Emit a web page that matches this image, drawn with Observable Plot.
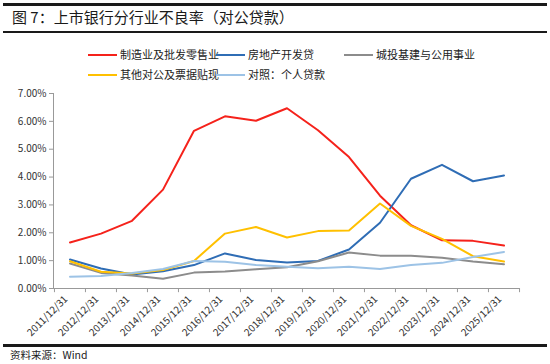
<!DOCTYPE html>
<html><head><meta charset="utf-8">
<script src="https://cdn.jsdelivr.net/npm/d3@7"></script>
<script src="https://cdn.jsdelivr.net/npm/@observablehq/plot@0.6"></script>
<style>
body{margin:0;width:550px;height:364px;position:relative;background:#fff;font-family:"Noto Sans CJK SC","Noto Sans",sans-serif;overflow:hidden}
.abs{position:absolute}
#topline{left:3px;top:3px;width:544px;height:3px;background:#1a1a1a}
#title{left:12px;top:7px;font-size:15px;color:#1a1a1a;line-height:20px;font-weight:400}
#subline{left:3px;top:31px;width:544px;height:2px;background:#1a1a1a}
#botline{left:3px;top:344px;width:544px;height:3px;background:#1a1a1a}
#caption{left:10px;top:347px;font-size:10.5px;color:#1a1a1a;line-height:16px}
.leg{position:absolute;font-size:11px;color:#222;line-height:14px;white-space:nowrap}
.leg span.sw{display:inline-block;width:29px;height:2px;vertical-align:middle;margin-right:3px;position:relative;top:-1px}
#chart{left:0;top:80px}
</style></head>
<body>
<div class="abs" id="topline"></div>
<div class="abs" id="title">图 7：上市银行分行业不良率（对公贷款）</div>
<div class="abs" id="subline"></div>
<div id="legend"></div>
<div class="abs" id="chart"></div>
<div class="abs" id="botline"></div>
<div class="abs" id="caption">资料来源：Wind</div>
<script>
const years = ["2011/12/31","2012/12/31","2013/12/31","2014/12/31","2015/12/31","2016/12/31","2017/12/31","2018/12/31","2019/12/31","2020/12/31","2021/12/31","2022/12/31","2023/12/31","2024/12/31","2025/12/31"];
const seriesNames = ["制造业及批发零售业","房地产开发贷","城投基建与公用事业","其他对公及票据贴现","对照：个人贷款"];
const seriesColors = ["#f5221b","#2f6db5","#8c8c8c","#ffc000","#9dc3e6"];
const manufacturing = [1.65,1.97,2.43,3.55,5.66,6.18,6.02,6.47,5.68,4.72,3.33,2.27,1.73,1.71,1.54];
const realEstate    = [1.04,0.72,0.50,0.62,0.84,1.26,1.02,0.93,0.99,1.40,2.36,3.94,4.44,3.85,4.06];
const infra         = [0.90,0.56,0.47,0.35,0.57,0.61,0.69,0.76,0.98,1.29,1.18,1.18,1.10,0.97,0.87];
const otherCorp     = [0.98,0.60,0.54,0.66,0.99,1.97,2.21,1.83,2.06,2.08,3.05,2.25,1.78,1.16,0.97];
const personal      = [0.42,0.45,0.56,0.70,0.99,0.96,0.84,0.78,0.73,0.78,0.70,0.84,0.92,1.13,1.31];
const yTicks = [0,1,2,3,4,5,6,7];

const allSeries = [manufacturing, realEstate, infra, otherCorp, personal];
const data = [];
allSeries.forEach((vals, s) => vals.forEach((v, i) => data.push({year: years[i], series: seriesNames[s], value: v})));

// legend
const legendLayout = [
  {s:0, left:88, top:47},{s:1, left:216, top:47},{s:2, left:344, top:47},
  {s:3, left:88, top:67},{s:4, left:216, top:67}
];
const legend = document.getElementById("legend");
legendLayout.forEach(({s,left,top}) => {
  const d = document.createElement("div");
  d.className = "leg"; d.style.left = left + "px"; d.style.top = top + "px";
  d.innerHTML = `<span class="sw" style="background:${seriesColors[s]}"></span>${seriesNames[s]}`;
  legend.appendChild(d);
});

const W = 550, H = 260, mL = 53, mR = 31, mT = 13, mB = 52;
const bw = (W - mL - mR) / years.length;

const plot = Plot.plot({
  width: W, height: H,
  marginLeft: mL, marginRight: mR, marginTop: mT, marginBottom: mB,
  style: {fontFamily: '"Noto Sans CJK SC","Noto Sans",sans-serif', fontSize: "10px", color: "#333", background: "transparent", overflow: "visible"},
  x: {type: "band", domain: years, padding: 0, label: null},
  y: {domain: [0, 7], label: null},
  color: {domain: seriesNames, range: seriesColors},
  marks: [
    Plot.axisY({ticks: yTicks, tickFormat: d => d.toFixed(2) + "%", tickSize: 4, tickPadding: 3, stroke: "#999", fontSize: 10}),
    Plot.axisX({tickSize: 0, tickPadding: 9, tickRotate: -45, fontSize: 10, dx: -4}),
    Plot.frame({anchor: "left", stroke: "#999"}),
    Plot.ruleY([0], {stroke: "#999"}),
    Plot.ruleX(years, {x: d => d, y1: 0, y2: -0.15, dx: -bw / 2, stroke: "#999"}),
    Plot.ruleX([years[years.length - 1]], {x: d => d, y1: 0, y2: -0.15, dx: bw / 2, stroke: "#999"}),
    Plot.line(data, {x: "year", y: "value", z: "series", stroke: "series", strokeWidth: 2})
  ]
});
document.getElementById("chart").appendChild(plot);
</script>
</body></html>
